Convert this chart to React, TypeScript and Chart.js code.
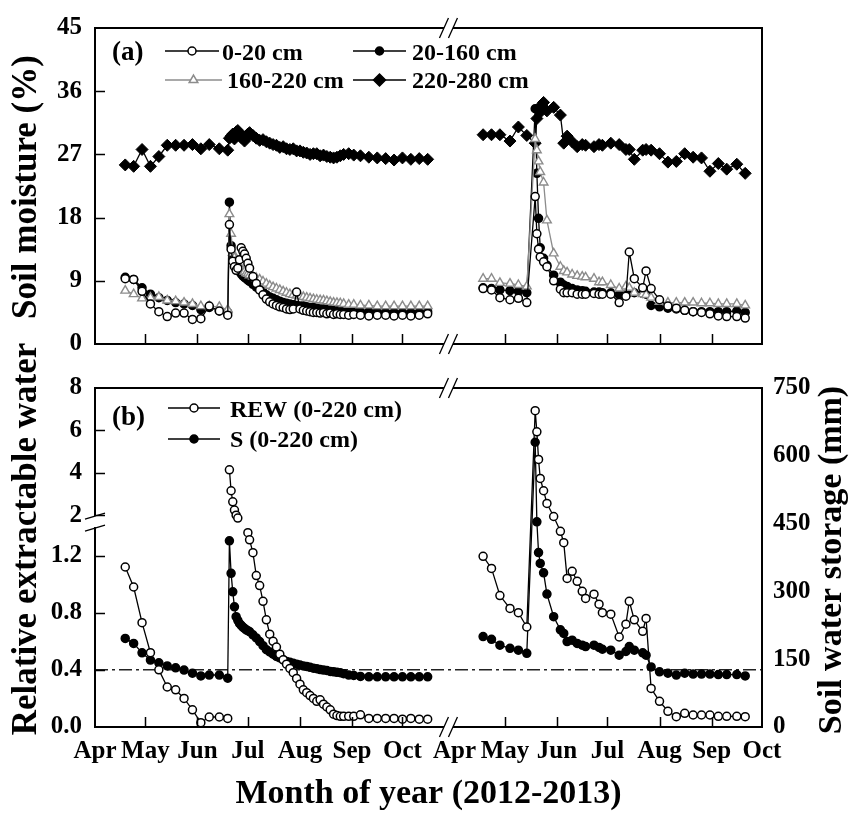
import React, { useEffect, useRef } from 'react';
import { Chart, LinearScale, registerables } from 'chart.js';

const FONT = '"Liberation Serif", "Times New Roman", serif';
const GRAY = '#8c8c8c';

// ---------- axes (x = days since 1 April; 2013 shifted along the broken axis) ----------
const YEAR2_SHIFT = 214;
const X_MAX = 397;
const X_BREAK = 208;
const MONTH_TICKS = [0, 30, 61, 91, 122, 153, 183, 214, 244, 275, 305, 336, 367, 397];
const MONTH_LABELS = ['Apr', 'May', 'Jun', 'Jul', 'Aug', 'Sep', 'Oct', 'Apr', 'May', 'Jun', 'Jul', 'Aug', 'Sep', 'Oct'];
const SM_TICKS = [0, 9, 18, 27, 36, 45];
const REW_TICKS = [0, 0.4, 0.8, 1.2, 2, 4, 6, 8];
const S_TICKS = [0, 150, 300, 450, 600, 750];
const REW_THRESHOLD = 0.4;
const REW_BREAK_LOW = 1.4;
const REW_BREAK_HIGH = 2;
const REW_TOP = 8;

// ---------- data 2012 ----------
const DAYS_2012 = [18, 23, 28, 33, 38, 43, 48, 53, 58, 63, 68, 74, 79,
  80, 81, 82, 83, 84, 85, 86, 87, 88, 89, 90, 91, 92,
  94, 96, 98, 100, 102, 104, 106, 108, 110, 112, 114, 116, 118, 120, 122, 124, 126, 128, 130, 132, 134, 136, 138, 140, 142, 144, 146, 148,
  151, 154, 158, 163, 168, 173, 178, 183, 188, 193, 198];
const SM_0_20_2012 = [9.3, 9.2, 7.5, 5.7, 4.6, 3.9, 4.4, 4.4, 3.5, 3.6, 5.4, 4.7, 4.1,
  17.0, 13.5, 11.8, 11.0, 10.5, 10.8, 12.0, 13.7, 13.2, 12.8, 12.2, 11.5, 10.8,
  9.6, 8.6, 7.7, 7.0, 6.4, 6.0, 5.7, 5.5, 5.3, 5.2, 5.0, 4.9, 5.0, 7.4, 5.0, 4.8, 4.7, 4.6, 4.5, 4.5, 4.4, 4.5, 4.3, 4.4, 4.2, 4.3, 4.2, 4.2,
  4.1, 4.2, 4.1, 4.0, 4.1, 4.1, 4.0, 4.1, 4.0, 4.1, 4.3];
const SM_20_160_2012 = [9.5, 9.2, 8.0, 7.1, 6.6, 6.2, 5.9, 5.7, 5.5, 4.9, 5.2, 4.7, 4.5,
  20.2, 14.0, 12.3, 11.6, 11.0, 10.6, 10.3, 10.0, 9.7, 9.5, 9.3, 9.1, 8.9,
  8.5, 8.1, 7.7, 7.4, 7.0, 6.7, 6.5, 6.3, 6.1, 5.9, 5.8, 5.7, 5.6, 5.5, 5.4, 5.4, 5.3, 5.2, 5.2, 5.1, 5.0, 5.0, 4.9, 4.9, 4.8, 4.8, 4.8, 4.7,
  4.7, 4.7, 4.6, 4.6, 4.6, 4.5, 4.5, 4.5, 4.5, 4.5, 4.6];
const SM_160_220_2012 = [7.6, 7.1, 6.5, 6.6, 6.7, 6.2, 6.1, 5.9, 5.7, 5.4, 5.4, 5.3, 4.9,
  18.5, 15.7, 13.0, 12.3, 11.8, 11.4, 11.0, 10.7, 10.5, 10.3, 10.1, 10.0, 9.8,
  9.6, 9.4, 9.2, 8.9, 8.6, 8.3, 8.1, 7.9, 7.7, 7.5, 7.3, 7.1, 7.0, 6.9, 6.8, 6.7, 6.6, 6.5, 6.4, 6.3, 6.25, 6.2, 6.1, 6.0, 5.9, 5.85, 5.8, 5.7,
  5.6, 5.6, 5.5, 5.5, 5.4, 5.4, 5.4, 5.4, 5.4, 5.4, 5.4];
const SM_220_280_2012 = [25.5, 25.3, 27.7, 25.3, 26.7, 28.3, 28.3, 28.3, 28.4, 27.8, 28.4, 27.8, 27.6,
  29.3, 29.6, 29.9, 29.2, 30.2, 30.4, 30.0, 29.4, 29.5, 28.9, 29.3, 29.9, 30.1,
  29.7, 29.3, 29.0, 29.1, 28.8, 28.6, 28.4, 28.3, 28.0, 28.1, 27.8, 27.7, 27.8, 27.5, 27.5, 27.3, 27.2, 27.0, 27.1, 27.1, 26.8, 26.9, 26.7, 26.6, 26.5, 26.6, 26.8, 27.0,
  27.1, 26.9, 26.8, 26.6, 26.5, 26.4, 26.2, 26.5, 26.3, 26.4, 26.3];
const REW_2012 = [1.12, 0.98, 0.73, 0.52, 0.40, 0.28, 0.26, 0.20, 0.12, 0.03, 0.07, 0.07, 0.06,
  4.14, 3.15, 2.63, 2.24, 2.0, 1.85, null, null, null, null, null, 1.36, 1.31,
  1.22, 1.06, 0.99, 0.88, 0.75, 0.65, 0.60, 0.56, 0.51, 0.47, 0.44, 0.41, 0.38, 0.34, 0.30, 0.26, 0.24, 0.22, 0.20, 0.18, 0.19, 0.16, 0.14, 0.12, 0.09, 0.08, 0.075, 0.075,
  0.075, 0.075, 0.085, 0.06, 0.06, 0.06, 0.06, 0.055, 0.06, 0.055, 0.055];
const S_2012 = [196, 185, 164, 148, 142, 135, 131, 126, 119, 113, 115, 115, 108,
  412, 340, 299, 266, 244, 236, 229, 225, 221, 218, 215, 213, 211,
  204, 197, 189, 180, 171, 166, 161, 156, 153, 149, 145, 143, 141, 139, 137, 135, 134, 132, 130, 129, 127, 126, 125, 123, 122, 121, 120, 118,
  115, 114, 112, 111, 111, 111, 111, 111, 111, 111, 111];

// ---------- data 2013 ----------
const DAYS_2013 = [17, 22, 27, 33, 38, 43, 48, 49, 50, 51, 53, 55, 59, 63, 65, 67, 70, 73, 76, 78, 83, 86, 88, 93,
  98, 102, 104, 107, 112, 114, 117, 122, 127, 132, 137, 142, 147, 152, 157, 162, 168, 173];
const SM_0_20_2013 = [7.9, 7.7, 6.6, 6.3, 6.5, 5.9, 21.0, 15.7, 13.5, 12.4, 11.7, 11.0, 9.0, 7.8, 7.3, 7.3, 7.3, 7.1, 7.1, 7.1, 7.2, 7.1, 7.1, 7.1,
  5.9, 6.8, 13.1, 9.3, 8.0, 10.4, 7.9, 6.3, 5.4, 5.1, 4.8, 4.6, 4.5, 4.3, 4.0, 3.9, 3.9, 3.7];
const SM_20_160_2013 = [8.0, 7.9, 7.7, 7.6, 7.5, 7.3, 33.5, 24.3, 17.9, 13.7, 12.2, 11.2, 9.8, 8.8, 8.4, 8.2, 7.9, 7.7, 7.6, 7.5, 7.4, 7.4, 7.3, 7.3,
  7.0, 7.1, 7.4, 7.3, 7.2, 7.1, 5.5, 5.3, 5.1, 5.0, 4.8, 4.6, 4.6, 4.6, 4.6, 4.6, 4.7, 4.5];
const SM_160_220_2013 = [9.3, 9.3, 8.7, 8.6, 8.4, 8.2, 29.2, 27.6, 26.0, 24.5, 23.0, 17.6, 12.9, 11.0, 10.4, 10.2, 9.9, 9.7, 9.6, 9.5, 9.3, 8.8, 8.8, 8.4,
  7.9, 8.2, 8.0, 7.3, 7.1, 7.0, 6.6, 6.0, 5.9, 5.9, 5.9, 5.9, 5.8, 5.8, 5.7, 5.7, 5.7, 5.5];
const SM_220_280_2013 = [29.8, 29.8, 29.8, 28.9, 30.9, 29.7, 28.6, 32.1, 33.6, 33.0, 34.4, 33.2, 33.7, 32.6, 28.6, 29.6, 28.8, 28.1, 28.4, 28.3, 28.1, 28.4, 28.3, 28.6,
  28.4, 27.7, 27.7, 26.3, 27.6, 27.7, 27.6, 27.1, 25.9, 26.0, 27.1, 26.6, 26.5, 24.6, 25.7, 24.9, 25.6, 24.3];
const REW_2013 = [1.195, 1.11, 0.92, 0.83, 0.80, 0.70, 6.93, 5.93, 4.63, 3.73, 3.15, 2.55, 1.93, 1.37, 1.29, 1.04, 1.09, 1.02, 0.95, 0.90, 0.93, 0.86, 0.80, 0.79,
  0.63, 0.72, 0.88, 0.75, 0.67, 0.76, 0.27, 0.18, 0.11, 0.072, 0.096, 0.084, 0.084, 0.084, 0.075, 0.075, 0.075, 0.072];
const S_2013 = [200, 194, 181, 174, 170, 163, 630, 454, 386, 362, 341, 294, 244, 215, 207, 189, 192, 185, 181, 178, 181, 176, 172, 170,
  159, 167, 178, 170, 164, 159, 133, 122, 119, 115, 119, 117, 117, 117, 116, 116, 116, 113];

// ---------- broken REW scale ----------
const FRAC_LOW = 0.59;
const FRAC_HIGH = 0.625;
function rewFrac(v: number) {
  if (v <= REW_BREAK_LOW) return (v / REW_BREAK_LOW) * FRAC_LOW;
  if (v < REW_BREAK_HIGH) return FRAC_LOW + ((v - REW_BREAK_LOW) / (REW_BREAK_HIGH - REW_BREAK_LOW)) * (FRAC_HIGH - FRAC_LOW);
  return FRAC_HIGH + ((v - REW_BREAK_HIGH) / (REW_TOP - REW_BREAK_HIGH)) * (1 - FRAC_HIGH);
}
function rewInv(f: number) {
  if (f <= FRAC_LOW) return (f / FRAC_LOW) * REW_BREAK_LOW;
  if (f < FRAC_HIGH) return REW_BREAK_LOW + ((f - FRAC_LOW) / (FRAC_HIGH - FRAC_LOW)) * (REW_BREAK_HIGH - REW_BREAK_LOW);
  return REW_BREAK_HIGH + ((f - FRAC_HIGH) / (1 - FRAC_HIGH)) * (REW_TOP - REW_BREAK_HIGH);
}
class BrokenScale extends LinearScale {
  static id = 'brokenLinear';
  getPixelForValue(value: any) {
    if (value === null || value === undefined || isNaN(value)) return NaN;
    return this.getPixelForDecimal(rewFrac(value));
  }
  getValueForPixel(pixel: number) {
    return rewInv(this.getDecimalForPixel(pixel));
  }
}
Chart.register(...registerables, BrokenScale as any);

// ---------- helpers ----------
const R_CIRCLE = 4;
const R_TRI = 5;
const R_DIAMOND = 6;
const pts = (days: number[], vals: (number | null)[], shift = 0) => days.map((d, i) => ({ x: d + shift, y: vals[i] }));
const OPEN = { borderColor: '#000', borderWidth: 1.3, pointStyle: 'circle', pointRadius: R_CIRCLE, pointBorderWidth: 1.5, pointBackgroundColor: '#fff', pointBorderColor: '#000', fill: false, tension: 0 };
const FILLED = { ...OPEN, pointBackgroundColor: '#000' };
const TRI = { borderColor: GRAY, borderWidth: 1.3, pointStyle: 'triangle', pointRadius: R_TRI, pointBorderWidth: 1.4, pointBackgroundColor: '#fff', pointBorderColor: GRAY, fill: false, tension: 0 };
const DIAMOND = { borderColor: '#000', borderWidth: 1.3, pointStyle: 'rectRot', pointRadius: R_DIAMOND, pointBorderWidth: 1, pointBackgroundColor: '#000', pointBorderColor: '#000', fill: false, tension: 0 };
const tickFont = { family: FONT, size: 25, weight: 'bold' as const };

function drawFrame(ctx: any, ca: any) {
  ctx.save();
  ctx.strokeStyle = '#000';
  ctx.lineWidth = 2;
  ctx.strokeRect(ca.left, ca.top, ca.right - ca.left, ca.bottom - ca.top);
  ctx.restore();
}
function drawXBreak(ctx: any, bx: number, y: number) {
  ctx.save();
  ctx.fillStyle = '#fff';
  ctx.fillRect(bx - 0.5, y - 2.5, 9, 5);
  ctx.strokeStyle = '#000';
  ctx.lineWidth = 1.3;
  ctx.beginPath();
  ctx.moveTo(bx - 5, y + 10); ctx.lineTo(bx + 4, y - 10);
  ctx.moveTo(bx + 4, y + 10); ctx.lineTo(bx + 13, y - 10);
  ctx.stroke();
  ctx.restore();
}
function drawXTicks(ctx: any, xs: any, bottom: number) {
  ctx.save();
  ctx.strokeStyle = '#000';
  ctx.lineWidth = 1.5;
  ctx.beginPath();
  for (const v of MONTH_TICKS) {
    if (v === 0 || v === YEAR2_SHIFT || v === X_MAX) continue;
    const px = Math.round(xs.getPixelForValue(v)) + 0.5;
    ctx.moveTo(px, bottom); ctx.lineTo(px, bottom - 10);
  }
  ctx.stroke();
  ctx.restore();
}
function drawYTicks(ctx: any, ys: any, left: number, values: number[]) {
  ctx.save();
  ctx.strokeStyle = '#000';
  ctx.lineWidth = 1.5;
  ctx.beginPath();
  for (const v of values) {
    const py = Math.round(ys.getPixelForValue(v)) + 0.5;
    ctx.moveTo(left, py); ctx.lineTo(left + 10, py);
  }
  ctx.stroke();
  ctx.restore();
}
function drawMarker(ctx: any, style: string, x: number, y: number) {
  ctx.save();
  ctx.lineWidth = 1.5;
  ctx.beginPath();
  if (style === 'open' || style === 'filled') {
    ctx.arc(x, y, R_CIRCLE, 0, Math.PI * 2);
  } else if (style === 'tri') {
    const r = R_TRI;
    ctx.moveTo(x, y - r);
    ctx.lineTo(x + r * Math.sin((2 * Math.PI) / 3), y - r * Math.cos((2 * Math.PI) / 3));
    ctx.lineTo(x + r * Math.sin((4 * Math.PI) / 3), y - r * Math.cos((4 * Math.PI) / 3));
    ctx.closePath();
  } else {
    const r = R_DIAMOND;
    ctx.moveTo(x, y - r); ctx.lineTo(x + r, y); ctx.lineTo(x, y + r); ctx.lineTo(x - r, y); ctx.closePath();
  }
  ctx.fillStyle = style === 'open' || style === 'tri' ? '#fff' : '#000';
  ctx.strokeStyle = style === 'tri' ? GRAY : '#000';
  ctx.fill();
  ctx.stroke();
  ctx.restore();
}
function legendEntry(ctx: any, style: string, x0: number, x1: number, y: number, text: string, tx: number, ty: number) {
  ctx.save();
  ctx.strokeStyle = style === 'tri' ? GRAY : '#000';
  ctx.lineWidth = 1.3;
  ctx.beginPath(); ctx.moveTo(x0, y); ctx.lineTo(x1, y); ctx.stroke();
  drawMarker(ctx, style, (x0 + x1) / 2, y);
  ctx.fillStyle = '#000';
  ctx.font = `bold 24px ${FONT}`;
  ctx.textAlign = 'left';
  ctx.textBaseline = 'alphabetic';
  ctx.fillText(text, tx, ty);
  ctx.restore();
}
function text(ctx: any, s: string, x: number, y: number, size: number, align = 'left') {
  ctx.save();
  ctx.fillStyle = '#000';
  ctx.font = `bold ${size}px ${FONT}`;
  ctx.textAlign = align;
  ctx.textBaseline = 'alphabetic';
  ctx.fillText(s, x, y);
  ctx.restore();
}
function vText(ctx: any, s: string, x: number, y: number, size: number) {
  ctx.save();
  ctx.translate(x, y);
  ctx.rotate(-Math.PI / 2);
  ctx.fillStyle = '#000';
  ctx.font = `bold ${size}px ${FONT}`;
  ctx.textAlign = 'center';
  ctx.textBaseline = 'alphabetic';
  ctx.fillText(s, 0, 0);
  ctx.restore();
}

// ---------- plugins ----------
const panelAPlugin = {
  id: 'panelA',
  afterDraw(chart: any) {
    const ctx = chart.ctx;
    const ca = chart.chartArea;
    const xs = chart.scales.x;
    const ys = chart.scales.y;
    drawFrame(ctx, ca);
    const bx = xs.getPixelForValue(X_BREAK);
    drawXBreak(ctx, bx, ca.top);
    drawXBreak(ctx, bx, ca.bottom);
    drawXTicks(ctx, xs, ca.bottom);
    drawYTicks(ctx, ys, ca.left, SM_TICKS.slice(1, -1));
    text(ctx, '(a)', 112, 60, 27);
    legendEntry(ctx, 'open', 165, 219, 51, '0-20 cm', 222, 60);
    legendEntry(ctx, 'filled', 353, 406, 51, '20-160 cm', 412, 60);
    legendEntry(ctx, 'tri', 165, 222, 80, '160-220 cm', 227, 88);
    legendEntry(ctx, 'diamond', 353, 406, 80, '220-280 cm', 412, 88);
    vText(ctx, 'Soil moisture (%)', 36, 187, 35);
  },
};

const panelBPlugin = {
  id: 'panelB',
  beforeDatasetsDraw(chart: any) {
    const ctx = chart.ctx;
    const ca = chart.chartArea;
    const y = chart.scales.yL.getPixelForValue(REW_THRESHOLD);
    ctx.save();
    ctx.strokeStyle = '#222';
    ctx.lineWidth = 1.5;
    ctx.setLineDash([13, 4, 3, 4]);
    ctx.beginPath();
    ctx.moveTo(ca.left, y); ctx.lineTo(ca.right, y);
    ctx.stroke();
    ctx.restore();
  },
  afterDraw(chart: any) {
    const ctx = chart.ctx;
    const ca = chart.chartArea;
    const xs = chart.scales.x;
    const yl = chart.scales.yL;
    drawFrame(ctx, ca);
    const bx = xs.getPixelForValue(X_BREAK);
    drawXBreak(ctx, bx, ca.top);
    drawXBreak(ctx, bx, ca.bottom);
    drawXTicks(ctx, xs, ca.bottom);
    drawYTicks(ctx, yl, ca.left, REW_TICKS.slice(1, -1));
    // break on the REW axis
    const yb = yl.getPixelForValue((REW_BREAK_LOW + REW_BREAK_HIGH) / 2);
    ctx.save();
    ctx.fillStyle = '#fff';
    ctx.fillRect(ca.left - 2, yb - 5, 4, 11);
    ctx.strokeStyle = '#000';
    ctx.lineWidth = 1.3;
    ctx.beginPath();
    ctx.moveTo(ca.left - 10, yb - 2); ctx.lineTo(ca.left + 10, yb - 8);
    ctx.moveTo(ca.left - 10, yb + 10); ctx.lineTo(ca.left + 10, yb + 4);
    ctx.stroke();
    ctx.restore();
    text(ctx, '(b)', 112, 95, 27);
    legendEntry(ctx, 'open', 168, 220, 78, 'REW (0-220 cm)', 230, 87);
    legendEntry(ctx, 'filled', 168, 220, 109, 'S (0-220 cm)', 230, 117);
    vText(ctx, 'Relative extractable water', 36, 209, 35);
    vText(ctx, 'Soil water storage (mm)', 841, 230, 34);
    text(ctx, 'Month of year (2012-2013)', (ca.left + ca.right) / 2, 473, 34, 'center');
  },
};

const hideBreakCrossing = (c: any) => {
  const a = c.p0.parsed.y;
  const b = c.p1.parsed.y;
  return Math.min(a, b) < REW_BREAK_LOW && Math.max(a, b) > REW_BREAK_HIGH ? 'rgba(0,0,0,0)' : undefined;
};

export default function App() {
  const refA = useRef<HTMLCanvasElement>(null);
  const refB = useRef<HTMLCanvasElement>(null);

  useEffect(() => {
    const chartA = new Chart(refA.current as HTMLCanvasElement, {
      type: 'line',
      data: {
        datasets: [
          { label: '0-20 cm', data: pts(DAYS_2012, SM_0_20_2012), ...OPEN, order: 0 },
          { label: '0-20 cm 2013', data: pts(DAYS_2013, SM_0_20_2013, YEAR2_SHIFT), ...OPEN, order: 0 },
          { label: '160-220 cm', data: pts(DAYS_2012, SM_160_220_2012), ...TRI, order: 1 },
          { label: '160-220 cm 2013', data: pts(DAYS_2013, SM_160_220_2013, YEAR2_SHIFT), ...TRI, order: 1 },
          { label: '20-160 cm', data: pts(DAYS_2012, SM_20_160_2012), ...FILLED, order: 2 },
          { label: '20-160 cm 2013', data: pts(DAYS_2013, SM_20_160_2013, YEAR2_SHIFT), ...FILLED, order: 2 },
          { label: '220-280 cm', data: pts(DAYS_2012, SM_220_280_2012), ...DIAMOND, order: 3 },
          { label: '220-280 cm 2013', data: pts(DAYS_2013, SM_220_280_2013, YEAR2_SHIFT), ...DIAMOND, order: 3 },
        ] as any,
      },
      options: {
        animation: false,
        responsive: false,
        events: [],
        layout: { padding: { left: 0, right: 91, top: 25, bottom: 0 } },
        plugins: { legend: { display: false }, tooltip: { enabled: false } },
        scales: {
          x: {
            type: 'linear', min: 0, max: X_MAX,
            ticks: { display: false },
            grid: { display: false, drawTicks: false },
            border: { display: false },
            afterFit: (s: any) => { s.height = 9; },
          },
          y: {
            type: 'linear', position: 'left', min: 0, max: 45,
            afterBuildTicks: (s: any) => { s.ticks = SM_TICKS.map((v) => ({ value: v })); },
            afterFit: (s: any) => { s.width = 95; },
            grid: { display: false, drawTicks: false },
            border: { display: false },
            ticks: { color: '#000', font: tickFont, padding: 13, autoSkip: false },
          },
        },
      } as any,
      plugins: [panelAPlugin],
    });

    const chartB = new Chart(refB.current as HTMLCanvasElement, {
      type: 'line',
      data: {
        datasets: [
          { label: 'REW (0-220 cm)', data: pts(DAYS_2012, REW_2012), ...OPEN, yAxisID: 'yL', order: 0, segment: { borderColor: hideBreakCrossing } },
          { label: 'REW 2013', data: pts(DAYS_2013, REW_2013, YEAR2_SHIFT), ...OPEN, yAxisID: 'yL', order: 0 },
          { label: 'S (0-220 cm)', data: pts(DAYS_2012, S_2012), ...FILLED, yAxisID: 'yS', order: 1 },
          { label: 'S 2013', data: pts(DAYS_2013, S_2013, YEAR2_SHIFT), ...FILLED, yAxisID: 'yS', order: 1 },
        ] as any,
      },
      options: {
        animation: false,
        responsive: false,
        events: [],
        layout: { padding: { left: 0, right: 0, top: 58, bottom: 0 } },
        plugins: { legend: { display: false }, tooltip: { enabled: false } },
        scales: {
          x: {
            type: 'linear', position: 'bottom', min: 0, max: X_MAX,
            afterBuildTicks: (s: any) => { s.ticks = MONTH_TICKS.map((v) => ({ value: v })); },
            afterFit: (s: any) => { s.height = 89; },
            grid: { display: false, drawTicks: false },
            border: { display: false },
            ticks: {
              color: '#000', font: tickFont, padding: 10, autoSkip: false, maxRotation: 0, minRotation: 0,
              callback: (_v: any, i: number) => MONTH_LABELS[i],
            },
          },
          yL: {
            type: 'brokenLinear', axis: 'y', position: 'left', min: 0, max: REW_TOP,
            afterBuildTicks: (s: any) => { s.ticks = REW_TICKS.map((v) => ({ value: v })); },
            afterFit: (s: any) => { s.width = 95; },
            grid: { display: false, drawTicks: false },
            border: { display: false },
            ticks: {
              color: '#000', font: tickFont, padding: 13, autoSkip: false,
              callback: (v: number) => (v < REW_BREAK_HIGH ? v.toFixed(1) : String(v)),
            },
          },
          yS: {
            type: 'linear', axis: 'y', position: 'right', min: 0, max: 750,
            afterBuildTicks: (s: any) => { s.ticks = S_TICKS.map((v) => ({ value: v })); },
            afterFit: (s: any) => { s.width = 91; },
            grid: { display: false, drawTicks: false },
            border: { display: false },
            ticks: { color: '#000', font: tickFont, padding: 11, autoSkip: false },
          },
        },
      } as any,
      plugins: [panelBPlugin],
    });

    return () => {
      chartA.destroy();
      chartB.destroy();
    };
  }, []);

  return (
    <div style={{ position: 'absolute', left: 0, top: 0, width: 853, height: 816, background: '#fff' }}>
      <div style={{ position: 'absolute', left: 0, top: 0, width: 853, height: 372 }}>
        <canvas ref={refA} width={853} height={372} style={{ display: 'block' }} />
      </div>
      <div style={{ position: 'absolute', left: 0, top: 330, width: 853, height: 486 }}>
        <canvas ref={refB} width={853} height={486} style={{ display: 'block' }} />
      </div>
    </div>
  );
}
